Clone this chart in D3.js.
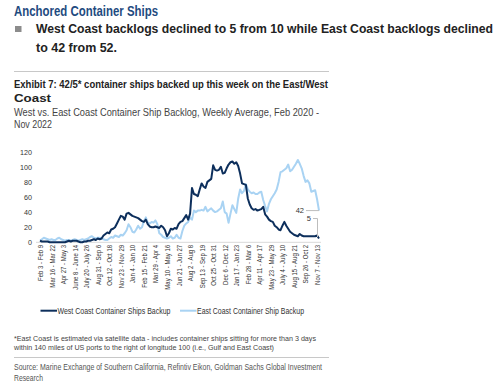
<!DOCTYPE html>
<html>
<head>
<meta charset="utf-8">
<script src="https://d3js.org/d3.v7.min.js"></script>
<style>
  body { margin: 0; background: #fff; }
  svg { display: block; }
  .sans { font-family: "Liberation Sans", Arial, sans-serif; fill: #333; }
  .axis text { font-family: "Liberation Sans", Arial, sans-serif; fill: #333; }
</style>
</head>
<body>
<div id="vis"></div>
<script>
// weekly data, Feb 3 2020 -> mid Nov 2022
var westCoast = [
  2, 1, 1, 1, 1, 0,   0, 0, 0, 0, 0, 0,   0, 0, 1, 2, 1, 2,   2, 2, 1, 0, 0, 1,
  1, 2, 2, 3, 4, 3,   5, 4, 5, 9, 11, 13, 12, 17, 18, 20, 25, 30, 35, 34, 30, 38, 39, 37,
  35, 34, 33, 32, 30, 28, 27, 30, 24, 21, 20, 20, 21, 20, 19, 22, 20, 16, 8, 12, 18, 17, 19, 18,
  24, 27, 28, 32, 36, 30, 38, 72, 64, 63, 61, 70, 78, 74, 72, 80, 82, 84, 102, 96, 95, 96, 100, 91,
  92, 98, 103, 106, 107, 104, 106, 101, 91, 78, 77, 76, 58, 50, 45, 43, 44, 42, 43, 44, 47, 37, 34, 30,
  28, 27, 22, 20, 17, 16, 22, 27, 22, 18, 14, 12, 10, 9, 8, 11, 9, 8, 8, 8, 8, 8, 8, 8,
  9, 5
]
var eastCoast = [
  2, 4, 6, 5, 4, 3,   4, 3, 3, 5, 6, 4,   3, 2, 3, 3, 2, 3,   4, 3, 2, 3, 4, 3,
  4, 5, 7, 8, 6, 5,   6, 6, 5, 4, 3, 3,   5, 7, 6, 9, 8, 7,   10, 9, 12, 16, 24, 20,
  14, 13, 17, 22, 18, 20, 28, 33, 26, 25, 27, 26, 29, 24, 12, 10, 7, 6, 5, 6, 8, 5, 6, 10,
  6, 5, 15, 22, 25, 27, 33, 30, 42, 40, 42, 42, 43, 42, 47, 41, 43, 45, 42, 40, 41, 43, 45, 54,
  40, 38, 26, 38, 49, 44, 39, 58, 70, 65, 68, 77, 70, 67, 65, 66, 64, 64, 66, 67, 56, 48, 41, 51,
  57, 61, 65, 70, 80, 93, 94, 96, 98, 103, 94, 96, 100, 104, 109, 104, 98, 88, 80, 82, 78, 67, 68, 69,
  57, 42
]
var tickLabels = [
  "Feb 3 - Feb 9", "Mar 16 - Mar 22", "Apr 27 - May 3", "June 8 - June 14", "July 20 - July 26",
  "Aug 31 - Sep 6", "Oct 12 - Oct 18", "Nov 23 - Nov 29", "Jan 4 - Jan 10", "Feb 15 - Feb 21",
  "Mar 29 - Apr 4", "May 10 - May 16", "Jun 21 - Jun 27", "Aug 2 - Aug 8", "Sep 13 - Sep 19",
  "Oct 25 - Oct 31", "Dec 6 - Dec 12", "Jan 17 - Jan 23", "Feb 28 - Mar 6", "Apr 11 - Apr 17",
  "May 23 - May 29", "July 4 - July 10", "Aug 15 - Aug 21", "Sep 26 - Oct 2", "Nov 7 - Nov 13"
]
var yTicks = [0, 20, 40, 60, 80, 100, 120]
var seriesNames = ["West Coast Container Ships Backup", "East Coast Container Ship Backup"]

var westColor = "#0d2f5c"
var eastColor = "#a9d3f3"

var svg = d3.select("#vis").append("svg")
  .attr("width", 500)
  .attr("height", 391)

// helper for text squeezed to a measured width
function addText(x, y, str, size, weight, color, w) {
  var t = svg.append("text")
    .attr("x", x).attr("y", y)
    .attr("class", "sans")
    .style("font-size", size + "px")
    .style("font-weight", weight)
    .style("fill", color)
    .text(str)
  if (w) t.attr("textLength", w).attr("lengthAdjust", "spacingAndGlyphs")
  return t
}

// header
addText(14, 15.5, "Anchored Container Ships", 15, "bold", "#1f4b80", 144)
svg.append("rect").attr("x", 15).attr("y", 26).attr("width", 6.5).attr("height", 6).attr("fill", "#8c8c8c")
addText(36, 32.5, "West Coast backlogs declined to 5 from 10 while East Coast backlogs declined", 12, "bold", "#222", 457)
addText(36, 51.5, "to 42 from 52.", 12, "bold", "#222", 81)
svg.append("line").attr("x1", 14).attr("x2", 329).attr("y1", 71.5).attr("y2", 71.5)
  .attr("stroke", "#c8c8c8").attr("stroke-width", 1)
addText(14, 87.5, "Exhibit 7: 42/5* container ships backed up this week on the East/West", 10.5, "bold", "#222", 314)
addText(14, 101.5, "Coast", 10.5, "bold", "#222", 37)
addText(14, 115.5, "West vs. East Coast Container Ship Backlog, Weekly Average, Feb 2020 -", 10.5, "normal", "#444", 305)
addText(14, 128, "Nov 2022", 10.5, "normal", "#444", 38)

// scales
var x = d3.scaleLinear().domain([0, westCoast.length - 1]).range([40, 319])
var y = d3.scaleLinear().domain([0, 120]).range([242.3, 151.7])

// baseline
svg.append("line").attr("x1", 36).attr("x2", 321).attr("y1", y(0)).attr("y2", y(0))
  .attr("stroke", "#d9d9d9").attr("stroke-width", 1)

// y axis
var yAxis = svg.append("g").attr("class", "axis")
  .attr("transform", "translate(32,0)")
  .call(d3.axisLeft(y).tickValues(yTicks).tickSize(0).tickPadding(0))
yAxis.select(".domain").remove()
yAxis.selectAll("text").style("font-size", "7.2px")

// x axis
var xAxis = svg.append("g").attr("class", "axis")
  .attr("transform", "translate(0," + y(0) + ")")
  .call(d3.axisBottom(x)
    .tickValues(d3.range(0, westCoast.length, 6))
    .tickFormat(function (d, i) { return tickLabels[i] })
    .tickSize(0))
xAxis.select(".domain").remove()
xAxis.selectAll("text")
  .attr("transform", "rotate(-90) scale(0.86,1)")
  .attr("text-anchor", "end")
  .attr("x", -3)
  .attr("y", 0)
  .attr("dy", "0.35em")
  .style("font-size", "7px")
  .style("fill", "#333")

// lines
var line = d3.line()
  .x(function (d, i) { return x(i) })
  .y(function (d) { return y(d) })

svg.append("path").datum(eastCoast)
  .attr("d", line).attr("fill", "none")
  .attr("stroke", eastColor).attr("stroke-width", 2).attr("stroke-linejoin", "round")

svg.append("path").datum(westCoast)
  .attr("d", line).attr("fill", "none")
  .attr("stroke", westColor).attr("stroke-width", 2).attr("stroke-linejoin", "round")

// end labels
var last = westCoast.length - 1
svg.append("line")
  .attr("x1", x(last) - 13).attr("x2", x(last))
  .attr("y1", y(eastCoast[last])).attr("y2", y(eastCoast[last]))
  .attr("stroke", "#bdbdbd").attr("stroke-width", 1)
svg.append("text").attr("class", "sans")
  .attr("x", x(last) - 15).attr("y", y(eastCoast[last]) + 2.5)
  .attr("text-anchor", "end").style("font-size", "7.5px")
  .text(eastCoast[last])
svg.append("path")
  .attr("d", "M" + (x(last) - 6) + "," + (y(westCoast[last]) - 20) + "H" + (x(last) - 1.5) + "V" + (y(westCoast[last]) - 1.5))
  .attr("fill", "none").attr("stroke", "#bdbdbd").attr("stroke-width", 1)
svg.append("text").attr("class", "sans")
  .attr("x", x(last) - 8).attr("y", y(westCoast[last]) - 17.5)
  .attr("text-anchor", "end").style("font-size", "7.5px")
  .text(westCoast[last])

// legend
var legend = svg.append("g").attr("transform", "translate(0,310.7)")
var legendX = [40.5, 180]
var legendW = [113, 107]
var legendColors = [westColor, eastColor]
seriesNames.forEach(function (name, i) {
  legend.append("line")
    .attr("x1", legendX[i]).attr("x2", legendX[i] + 16.5)
    .attr("y1", 0).attr("y2", 0)
    .attr("stroke", legendColors[i]).attr("stroke-width", 2)
  legend.append("text").attr("class", "sans")
    .attr("x", legendX[i] + 17).attr("y", 3)
    .style("font-size", "8.6px")
    .attr("textLength", legendW[i]).attr("lengthAdjust", "spacingAndGlyphs")
    .text(name)
})

// footnote + source
addText(14, 341, "*East Coast is estimated via satellite data - includes container ships sitting for more than 3 days", 7.6, "normal", "#444", 302)
addText(14, 349.6, "within 140 miles of US ports to the right of longitude 100 (i.e., Gulf and East Coast)", 7.6, "normal", "#444", 260)
svg.append("line").attr("x1", 14).attr("x2", 329).attr("y1", 357.5).attr("y2", 357.5)
  .attr("stroke", "#c8c8c8").attr("stroke-width", 1)
addText(14, 370, "Source: Marine Exchange of Southern California, Refintiv Eikon, Goldman Sachs Global Investment", 9, "normal", "#555", 308)
addText(14, 381, "Research", 9, "normal", "#555", 29)
</script>
</body>
</html>
